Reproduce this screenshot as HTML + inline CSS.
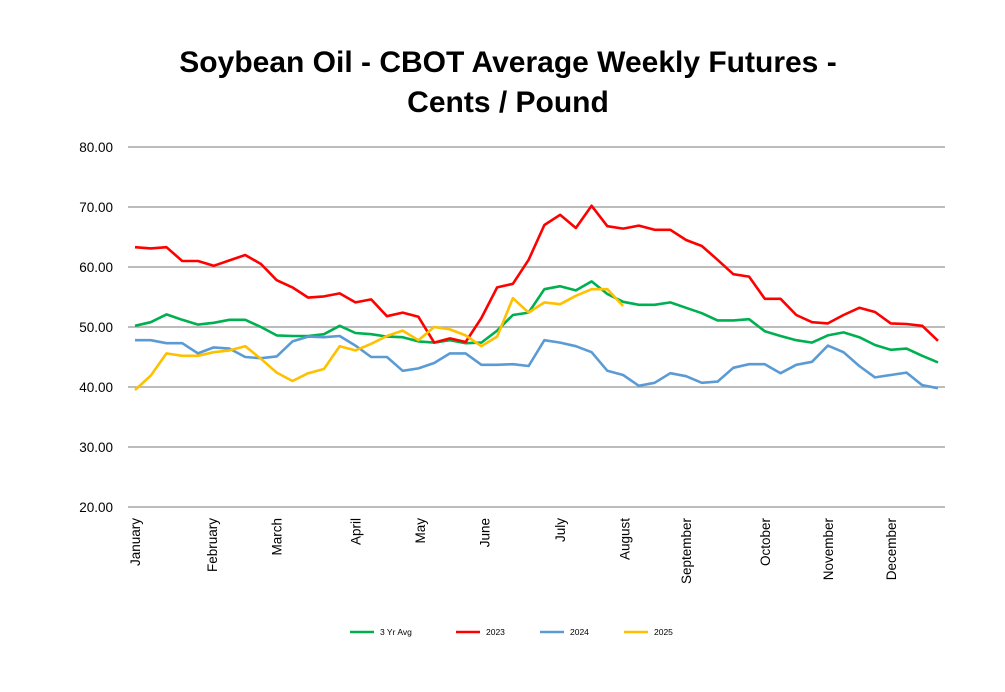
<!DOCTYPE html>
<html><head><meta charset="utf-8"><style>
body{margin:0;background:#fff;font-family:"Liberation Sans",sans-serif}
</style></head><body>
<svg width="1005" height="687" viewBox="0 0 1005 687">
<text x="508" y="72" text-anchor="middle" font-size="30" font-weight="bold" font-family="Liberation Sans, sans-serif">Soybean Oil - CBOT Average Weekly Futures -</text>
<text x="508" y="112" text-anchor="middle" font-size="30" font-weight="bold" font-family="Liberation Sans, sans-serif">Cents / Pound</text>
<g id="grid"></g><g id="ylabels"></g><g id="xlabels"></g><g id="series"></g><g id="legend"></g>
</svg>
<script>
const yTicks=[20,30,40,50,60,70,80];
const months=["January","February","March","April","May","June","July","August","September","October","November","December"];
const monthWeek=[0,4.9,9,14,18.1,22.2,27,31.1,35,40,44,48];
const seriesNames=["3 Yr Avg","2023","2024","2025"];
const seriesColors=["#00b050","#ff0000","#5b9bd5","#ffc000"];
const avg3=[50.2,50.8,52.1,51.2,50.4,50.7,51.2,51.2,50.0,48.6,48.5,48.5,48.8,50.2,49.0,48.8,48.4,48.3,47.6,47.4,47.8,47.3,47.4,49.4,52.0,52.4,56.3,56.8,56.1,57.6,55.5,54.2,53.7,53.7,54.1,53.2,52.3,51.1,51.1,51.3,49.3,48.5,47.8,47.4,48.6,49.1,48.3,47.0,46.2,46.4,45.2,44.1];
const y2023=[63.3,63.1,63.3,61.0,61.0,60.2,61.1,62.0,60.5,57.8,56.6,54.9,55.1,55.6,54.1,54.6,51.8,52.4,51.7,47.4,48.1,47.5,51.5,56.6,57.2,61.2,67.0,68.7,66.5,70.2,66.8,66.4,66.9,66.2,66.2,64.5,63.5,61.2,58.8,58.4,54.7,54.7,52.0,50.8,50.6,52.0,53.2,52.5,50.6,50.5,50.2,47.7];
const y2024=[47.8,47.8,47.3,47.3,45.6,46.6,46.4,45.0,44.8,45.1,47.6,48.4,48.3,48.5,46.9,45.0,45.0,42.7,43.1,44.0,45.6,45.6,43.7,43.7,43.8,43.5,47.8,47.4,46.8,45.8,42.7,42.0,40.2,40.7,42.3,41.8,40.7,40.9,43.2,43.8,43.8,42.3,43.7,44.2,46.9,45.8,43.5,41.6,42.0,42.4,40.3,39.8];
const y2025=[39.5,41.9,45.6,45.2,45.2,45.8,46.1,46.8,44.7,42.4,41.0,42.3,43.0,46.8,46.1,47.2,48.5,49.4,47.8,50.0,49.6,48.6,46.8,48.4,54.8,52.4,54.1,53.8,55.2,56.3,56.3,53.5];
const allSeries=[avg3,y2023,y2024,y2025];
const NS="http://www.w3.org/2000/svg";
const X0=135,X1=938,Y0=507,Y1=147;
function xs(i){return X0+(X1-X0)*i/51;}
function ys(v){return Y0-(v-20)/(80-20)*(Y0-Y1);}
function mk(tag,attrs,parent){const e=document.createElementNS(NS,tag);for(const k in attrs)e.setAttribute(k,attrs[k]);parent.appendChild(e);return e;}
const grid=document.getElementById('grid'),yl=document.getElementById('ylabels');
yTicks.forEach(t=>{
 const l=mk('line',{x1:128,x2:945,y1:ys(t),y2:ys(t),stroke:'#a6a6a6','stroke-width':1.5},grid);
 
 
 const tx=mk('text',{x:113,y:ys(t)+5,'text-anchor':'end','font-size':13.5,fill:'#000'},yl);
 tx.textContent=t.toFixed(2);
 
 
});
const xl=document.getElementById('xlabels');
months.forEach((m,i)=>{
 const x=xs(monthWeek[i])+5,y=518;
 const tx=mk('text',{x:x,y:y,'text-anchor':'end','font-size':13.5,transform:`rotate(-90 ${x} ${y})`},xl);
 tx.textContent=m;
 
 
});
const sg=document.getElementById('series');
allSeries.forEach((s,k)=>{
 const p=mk('polyline',{points:s.map((v,i)=>xs(i)+','+ys(v)).join(' '),fill:'none',stroke:seriesColors[k],'stroke-width':2.6,'stroke-linejoin':'round'},sg);
 
 
});
const lg=document.getElementById('legend');
const lx=[350,456,540,624];
seriesNames.forEach((n,k)=>{
 const g=mk('g',{},lg);
 
 
 mk('line',{x1:lx[k],x2:lx[k]+24,y1:632,y2:632,stroke:seriesColors[k],'stroke-width':2.6},g);
 const t=mk('text',{x:lx[k]+30,y:635,'font-size':8.5},g);
 t.textContent=n;
});
</script>
</body></html>
